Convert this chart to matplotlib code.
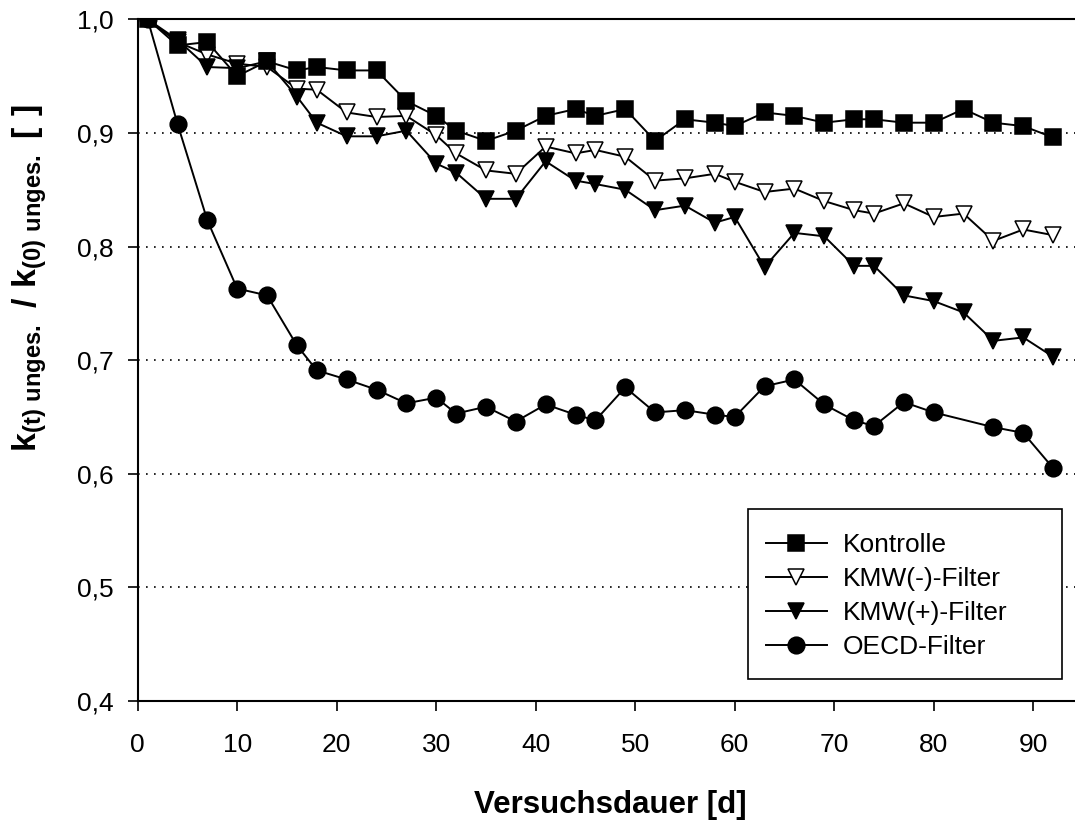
import matplotlib
matplotlib.use("Agg")
import matplotlib.pyplot as plt
from matplotlib.patches import Rectangle

plt.rcParams["font.family"] = ["Liberation Sans", "DejaVu Sans"]
plt.rcParams["mathtext.fontset"] = "custom"
plt.rcParams["mathtext.rm"] = "Liberation Sans"
plt.rcParams["mathtext.bf"] = "Liberation Sans:bold"

# Versuchstage
days = [1, 4, 7, 10, 13, 16, 18, 21, 24, 27, 30, 32, 35, 38, 41, 44, 46,
        49, 52, 55, 58, 60, 63, 66, 69, 72, 74, 77, 80, 83, 86, 89, 92]
days_oecd = [d for d in days if d != 83]

kontrolle = [1.000, 0.977, 0.980, 0.950, 0.963, 0.955, 0.958, 0.955, 0.955,
             0.928, 0.915, 0.902, 0.893, 0.902, 0.915, 0.921, 0.915, 0.921,
             0.893, 0.912, 0.909, 0.906, 0.918, 0.915, 0.909, 0.912, 0.912,
             0.909, 0.909, 0.921, 0.909, 0.906, 0.896]
kmw_minus = [1.000, 0.980, 0.969, 0.961, 0.958, 0.939, 0.938, 0.918, 0.914,
             0.915, 0.898, 0.882, 0.867, 0.864, 0.888, 0.882, 0.885, 0.879,
             0.858, 0.860, 0.864, 0.857, 0.848, 0.851, 0.840, 0.832, 0.829,
             0.838, 0.826, 0.829, 0.805, 0.815, 0.810]
kmw_plus = [1.000, 0.982, 0.958, 0.957, 0.963, 0.932, 0.909, 0.897, 0.897,
            0.902, 0.873, 0.865, 0.842, 0.842, 0.875, 0.858, 0.855, 0.850,
            0.832, 0.836, 0.821, 0.826, 0.782, 0.812, 0.809, 0.783, 0.783,
            0.757, 0.752, 0.742, 0.717, 0.720, 0.703]
oecd = [1.000, 0.908, 0.823, 0.763, 0.757, 0.713, 0.691, 0.683, 0.674,
        0.662, 0.667, 0.653, 0.659, 0.646, 0.661, 0.652, 0.647, 0.676,
        0.654, 0.656, 0.652, 0.650, 0.677, 0.683, 0.661, 0.647, 0.642,
        0.663, 0.654, 0.641, 0.636, 0.605]

x_ticks = [0, 10, 20, 30, 40, 50, 60, 70, 80, 90]
y_ticks = [0.4, 0.5, 0.6, 0.7, 0.8, 0.9, 1.0]
y_labels = ["0,4", "0,5", "0,6", "0,7", "0,8", "0,9", "1,0"]
grid_levels = [0.5, 0.6, 0.7, 0.8, 0.9]

W, H = 1075, 823
fig = plt.figure(figsize=(W / 100, H / 100), dpi=100)
ax = fig.add_axes([137.7 / W, 1 - 701 / H, (W - 137.7) / W, (701 - 19.3) / H])

for lv in grid_levels:
    ax.axhline(lv, color="black", lw=1.2, ls=(0, (1, 3.8)), zorder=1)

common = dict(color="black", lw=1.4, mec="black", mew=1.1)
ax.plot(days, kontrolle, marker="s", ms=11.5, mfc="black", label="Kontrolle",
        zorder=5, **common)
ax.plot(days, kmw_minus, marker="v", ms=12, mfc="white", label="KMW(-)-Filter",
        zorder=3, **common)
ax.plot(days, kmw_plus, marker="v", ms=12, mfc="black", label="KMW(+)-Filter",
        zorder=4, **common)
ax.plot(days_oecd, oecd, marker="o", ms=12, mfc="black", label="OECD-Filter",
        zorder=6, **common)

ax.set_xlim(0, (W - 137.7) / 9.95)
ax.set_ylim(0.4, 1.0)
ax.set_xticks(x_ticks)
ax.set_xticklabels([str(t) for t in x_ticks])
ax.set_yticks(y_ticks)
ax.set_yticklabels(y_labels)

ax.spines["right"].set_visible(False)
for s in ("left", "bottom", "top"):
    ax.spines[s].set_linewidth(1.5)
ax.tick_params(axis="both", direction="out", length=7.2, width=1.2,
               labelsize=19)
ax.tick_params(axis="x", pad=16)
ax.tick_params(axis="y", pad=10)

fig.text(610 / W, 1 - 805 / H, "Versuchsdauer [d]", ha="center", va="center",
         fontsize=22.5, fontweight="bold")
fig.text(30 / W, 1 - 278 / H,
         r"$\mathbf{k_{(t)\ unges.}\ /\ k_{(0)\ unges.}\ [\ ]}$",
         rotation=90, ha="center", va="center", fontsize=24.5)

# Legende ohne eigenen Rahmen, Rahmen als eigenes Rechteck (mehr Rand rechts)
box = Rectangle((748 / W, 1 - 679.3 / H), (1062.3 - 748) / W,
                (679.3 - 509) / H, transform=fig.transFigure,
                facecolor="white", edgecolor="black", lw=1.2,
                zorder=9, clip_on=False)
ax.add_patch(box)
leg = ax.legend(loc="upper left",
                bbox_to_anchor=(766 / W, 1 - 533.5 / H),
                bbox_transform=fig.transFigure,
                fontsize=19, frameon=False, handlelength=2.3,
                handletextpad=0.6, labelspacing=0.37, borderpad=0,
                borderaxespad=0)
leg.set_zorder(10)

fig.savefig("out.png", dpi=100)
